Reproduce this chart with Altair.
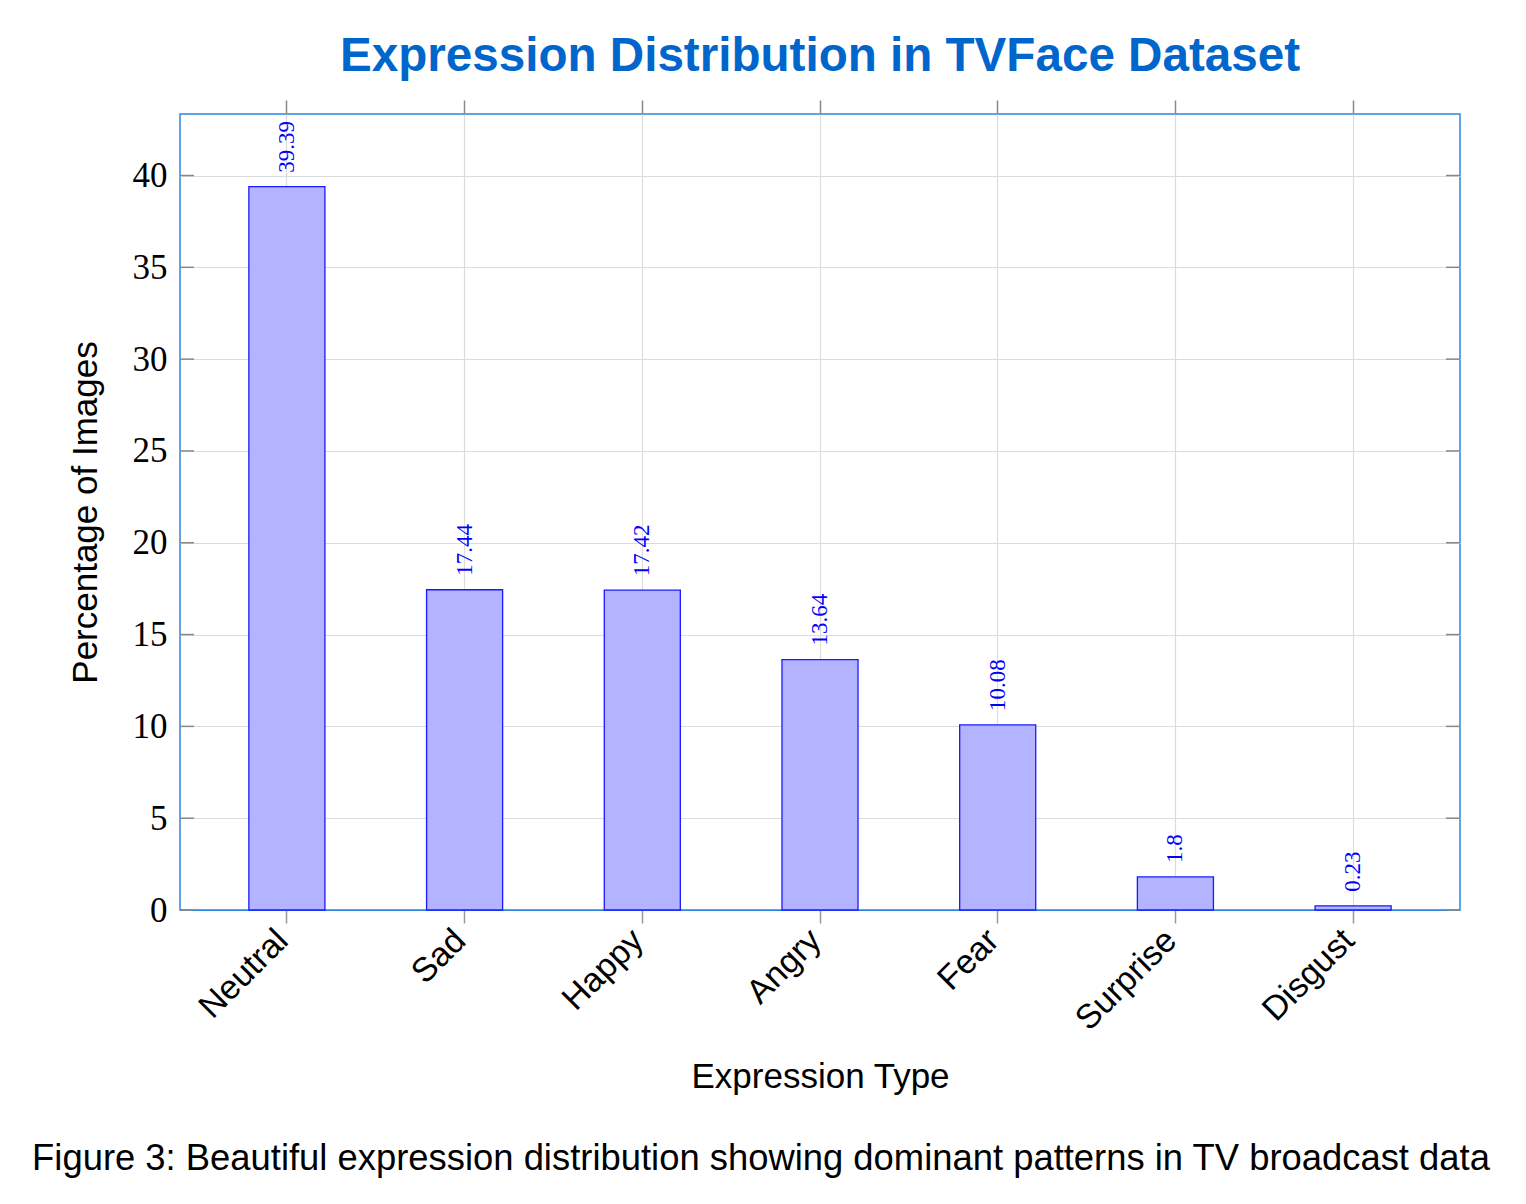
import altair as alt
import pandas as pd

# ---- data ----
categories = ["Neutral", "Sad", "Happy", "Angry", "Fear", "Surprise", "Disgust"]
percentages = [39.39, 17.44, 17.42, 13.64, 10.08, 1.8, 0.23]
value_labels = ["39.39", "17.44", "17.42", "13.64", "10.08", "1.8", "0.23"]
y_tick_values = [0, 5, 10, 15, 20, 25, 30, 35, 40]

TITLE = "Expression Distribution in TVFace Dataset"
X_TITLE = "Expression Type"
Y_TITLE = "Percentage of Images"
CAPTION = "Figure 3: Beautiful expression distribution showing dominant patterns in TV broadcast data"

df = pd.DataFrame({"expr": categories, "pct": percentages, "label": value_labels})
ticks_df = pd.DataFrame({"pct": y_tick_values})
cap_df = pd.DataFrame({"caption": [CAPTION]})

W, H = 1280, 796
SANS = "Liberation Sans"
SERIF = "Liberation Serif"
FRAME = "#2E86DE"

x_scale = alt.Scale(domain=categories, paddingInner=0.572, paddingOuter=0.3875)
y_scale = alt.Scale(domain=[0, 43.35], nice=False, zero=True)

y_axis = alt.Axis(
    values=y_tick_values, title=Y_TITLE, ticks=False, domain=False,
    grid=True,
    gridColor=alt.condition("datum.value == 0", alt.value(FRAME), alt.value("#dcdcdc")),
    gridWidth=1.2,
    labelFont=SERIF, labelFontSize=35, labelColor="black", labelPadding=13,
    titleFont=SANS, titleFontSize=35, titleFontWeight="normal", titleColor="black",
    titleX=-84, titleBaseline="alphabetic", titleAngle=270,
)

x_axis_bottom = alt.Axis(
    orient="bottom", title=X_TITLE, labelAngle=-45, labelAlign="right",
    labelBaseline="middle", labelFont=SANS, labelFontSize=34, labelColor="black",
    labelPadding=12, labelOffset=-4, tickSize=13, tickColor="#999999", tickWidth=1.5,
    domain=False, grid=True, gridColor="#dcdcdc", gridWidth=1.2,
    titleFont=SANS, titleFontSize=35, titleFontWeight="normal", titleColor="black",
    titleY=177, titleBaseline="alphabetic",
)

x_axis_top = alt.Axis(
    orient="top", title=None, labels=False, tickSize=14, tickColor="#888888",
    tickWidth=1.5, domain=False, grid=False,
)

left_ticks = alt.Chart(ticks_df).mark_rule(color="#888888", strokeWidth=1.5).encode(
    y=alt.Y("pct:Q", scale=y_scale, axis=y_axis),
    x=alt.value(0), x2=alt.value(14),
)
right_ticks = alt.Chart(ticks_df).mark_rule(color="#888888", strokeWidth=1.5).encode(
    y=alt.Y("pct:Q", scale=y_scale, axis=y_axis),
    x=alt.value(W - 14), x2=alt.value(W),
)

bars = alt.Chart(df).mark_bar(fill="#b3b3ff", stroke="#1a1aff", strokeWidth=1.3).encode(
    x=alt.X("expr:N", sort=categories, scale=x_scale, axis=x_axis_bottom),
    y=alt.Y("pct:Q", scale=y_scale, axis=y_axis),
)

labels = alt.Chart(df).mark_text(
    angle=270, align="left", baseline="middle", dx=14,
    font=SERIF, fontSize=23, color="#0000ff",
).encode(
    x=alt.X("expr:N", sort=categories, scale=x_scale, axis=x_axis_top),
    y=alt.Y("pct:Q", scale=y_scale, axis=y_axis),
    text="label:N",
)

caption = alt.Chart(cap_df).mark_text(
    font=SANS, fontSize=36.4, color="black", align="center", baseline="alphabetic",
).encode(
    x=alt.value(581), y=alt.value(1056), text="caption:N",
)

chart = alt.layer(left_ticks, right_ticks, bars, labels, caption).resolve_axis(
    x="independent"
).properties(
    width=W, height=H,
    background="white",
    autosize=alt.AutoSizeParams(type="none"),
    padding={"left": 180, "top": 114, "right": 66, "bottom": 294},
    title=alt.TitleParams(
        TITLE, font=SANS, fontSize=47.6, fontWeight="bold", color="#0066CC",
        anchor="middle", offset=-19, baseline="alphabetic",
    ),
).configure_view(
    stroke=FRAME, strokeWidth=1.5
)

chart.save("out.html", embed_options={"renderer": "svg", "actions": False})
